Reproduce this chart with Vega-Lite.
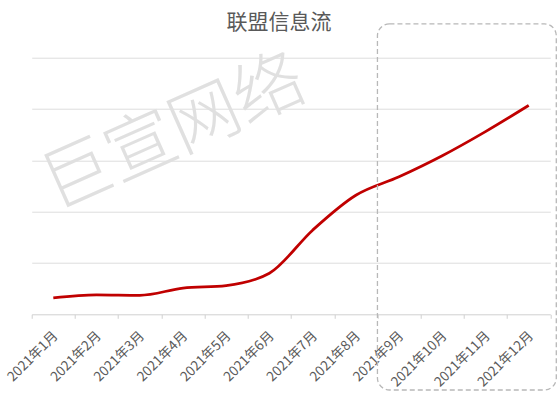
{
  "$schema": "https://vega.github.io/schema/vega-lite/v6.json",
  "width": 518.6,
  "height": 256.6,
  "autosize": {"type": "none"},
  "padding": {"left": 31.7, "top": 57.7, "right": 7.7, "bottom": 78.7},
  "background": "white",
  "config": {
    "view": {"stroke": null},
    "font": "Noto Sans CJK SC"
  },
  "title": {
    "text": "联盟信息流",
    "fontSize": 21,
    "fontWeight": "normal",
    "color": "#595959",
    "anchor": "middle",
    "frame": "group",
    "offset": -10,
    "dx": -12,
    "font": "Noto Sans CJK SC"
  },
  "datasets": {
    "series": [
      {"month": "2021年1月", "value": 0.32},
      {"month": "2021年2月", "value": 0.38},
      {"month": "2021年3月", "value": 0.37},
      {"month": "2021年4月", "value": 0.51},
      {"month": "2021年5月", "value": 0.56},
      {"month": "2021年6月", "value": 0.8},
      {"month": "2021年7月", "value": 1.64},
      {"month": "2021年8月", "value": 2.32},
      {"month": "2021年9月", "value": 2.68},
      {"month": "2021年10月", "value": 3.09},
      {"month": "2021年11月", "value": 3.56},
      {"month": "2021年12月", "value": 4.07}
    ],
    "box": [
      {"start": "2021年9月", "end": "2021年12月", "top": 5.66, "bottom": -1.475}
    ],
    "mark": [
      {"month": "2021年4月", "value": 3.59, "label": "巨宣网络"}
    ]
  },
  "layer": [
    {
      "data": {"name": "mark"},
      "mark": {"type": "text", "fontSize": 70, "angle": -24, "color": "#e0e0e0", "font": "Noto Sans CJK SC", "fontWeight": 300, "align": "center", "baseline": "middle", "dx": -10},
      "encoding": {
        "x": {"field": "month", "type": "ordinal"},
        "y": {"field": "value", "type": "quantitative"},
        "text": {"field": "label"}
      }
    },
    {
      "data": {"name": "series"},
      "mark": {"type": "line", "interpolate": "monotone", "color": "#c00000", "strokeWidth": 2.7},
      "encoding": {
        "x": {
          "field": "month",
          "type": "ordinal",
          "sort": null,
          "scale": {
            "type": "band",
            "paddingInner": 0,
            "paddingOuter": 0,
            "domain": ["2021年1月","2021年2月","2021年3月","2021年4月","2021年5月","2021年6月","2021年7月","2021年8月","2021年9月","2021年10月","2021年11月","2021年12月"]
          },
          "axis": {
            "title": null,
            "labelAngle": -45,
            "labelAlign": "right",
            "labelBaseline": "middle",
            "labelFontSize": 13.5,
            "labelColor": "#595959",
            "labelFont": "Noto Sans CJK SC",
            "labelOffset": 2,
            "domainColor": "#d0d0d0",
            "tickColor": "#d0d0d0",
            "tickSize": 4,
            "tickBand": "extent",
            "labelPadding": 15,
            "grid": false
          }
        },
        "y": {
          "field": "value",
          "type": "quantitative",
          "scale": {"domain": [0, 5], "nice": false},
          "axis": {
            "title": null,
            "labels": false,
            "ticks": false,
            "domain": false,
            "values": [1, 2, 3, 4, 5],
            "gridColor": "#dddddd",
            "gridWidth": 1
          }
        }
      }
    },
    {
      "data": {"name": "box"},
      "mark": {"type": "rect", "fill": null, "fillOpacity": 0, "stroke": "#b8b8b8", "strokeWidth": 1.3, "strokeDash": [5, 3], "cornerRadius": 12, "xOffset": -21.6, "x2Offset": 27.6},
      "encoding": {
        "x": {"field": "start", "type": "ordinal"},
        "x2": {"field": "end"},
        "y": {"field": "top", "type": "quantitative"},
        "y2": {"field": "bottom"}
      }
    }
  ]
}
